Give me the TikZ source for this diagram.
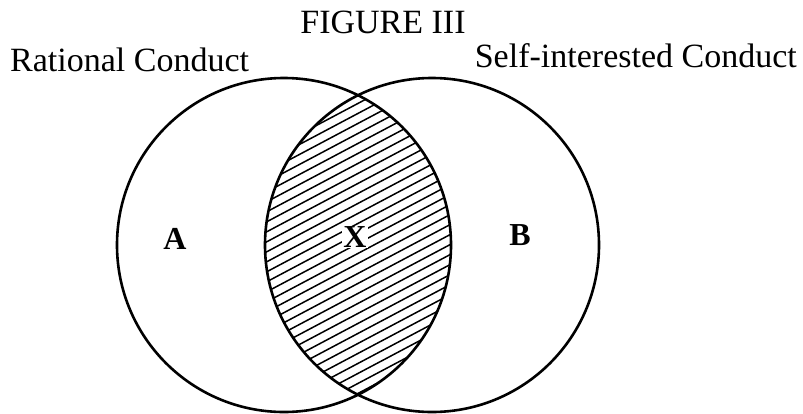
\documentclass[tikz,border=0pt]{standalone}
\usepackage{fontspec}
\setmainfont{Liberation Serif}
\tikzset{
    setline/.style={line width=2.6pt},
    hatchline/.style={line width=1.5pt},
    setname/.style={font=\fontsize{34}{40}\selectfont, inner sep=0pt},
    region/.style={font=\fontsize{32}{38}\selectfont\bfseries, inner sep=1pt}
}
\begin{document}
\begin{tikzpicture}[x=1pt, y=-1pt]
    \useasboundingbox (0,0) rectangle (803,413);
    \coordinate (rc) at (284,245);
    \coordinate (sc) at (432,245);

    % hatched overlap
    \begin{scope}
        \clip (rc) circle (167);
        \clip (sc) circle (167);
        \foreach \k in {-30,...,30}
            \draw[hatchline] (155,245+10*\k+106) -- (555,245+10*\k-106);
    \end{scope}

    \draw[setline] (rc) circle (167);
    \draw[setline] (sc) circle (167);

    \node[setname, anchor=base] (title) at (383,33) {FIGURE III};
    \node[setname, anchor=base west] (rational) at (10,71) {Rational Conduct};
    \node[setname, anchor=base east] (selfint) at (797,67) {Self-interested Conduct};

    \node[region] (a) at (175,239) {A};
    \node[region, fill=white] (x) at (355,237) {X};
    \node[region] (b) at (520,235) {B};
\end{tikzpicture}
\end{document}
